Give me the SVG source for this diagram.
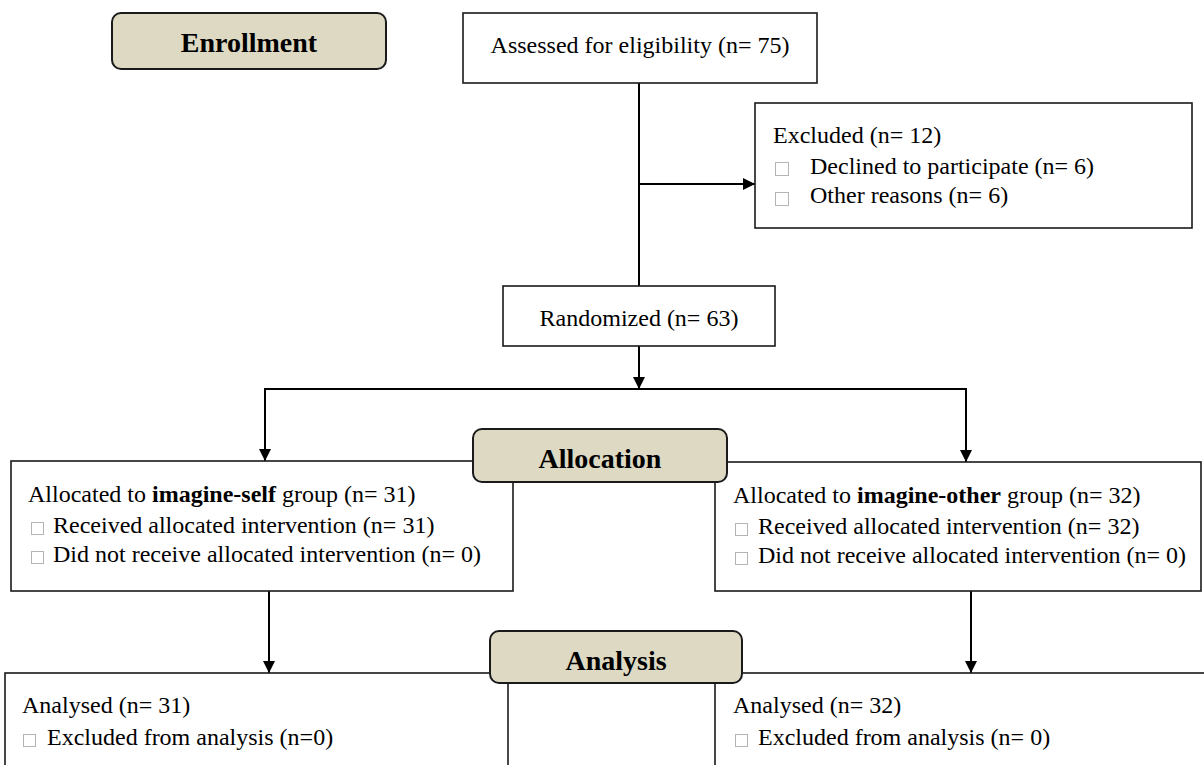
<svg xmlns="http://www.w3.org/2000/svg" width="1204" height="765" viewBox="0 0 1204 765" font-family="Liberation Serif, Times New Roman, Tinos, Nimbus Roman, FreeSerif, DejaVu Serif, Noto Serif, serif">
<style>
  .box { fill: #ffffff; stroke: #1a1a1a; stroke-width: 1.6; }
  .stage { fill: #DDD9C3; stroke: #1a1a1a; stroke-width: 2; }
  .t { font-size: 24px; fill: #000; }
  .h { font-size: 28px; font-weight: bold; fill: #000; text-anchor: middle; }
  .b { font-weight: bold; }
  .bul { fill: #ffffff; stroke: #b4b4b4; stroke-width: 1; }
  .conn { fill: none; stroke: #000; stroke-width: 2; }
</style>
<defs>
  <marker id="arr" viewBox="0 0 10 10" refX="10" refY="5" markerWidth="13" markerHeight="12" markerUnits="userSpaceOnUse" orient="auto">
    <path d="M0,0 L10,5 L0,10 z" fill="#000"/>
  </marker>
</defs>
<rect width="1204" height="765" fill="#ffffff"/>

<g id="connectors">
  <line class="conn" x1="639" y1="83" x2="639" y2="286"/>
  <line class="conn" x1="639" y1="184" x2="755" y2="184" marker-end="url(#arr)"/>
  <line class="conn" x1="639" y1="346" x2="639" y2="389" marker-end="url(#arr)"/>
  <line class="conn" x1="264" y1="389" x2="967" y2="389"/>
  <line class="conn" x1="265" y1="388" x2="265" y2="461" marker-end="url(#arr)"/>
  <line class="conn" x1="966" y1="388" x2="966" y2="462" marker-end="url(#arr)"/>
  <line class="conn" x1="269" y1="591" x2="269" y2="673" marker-end="url(#arr)"/>
  <line class="conn" x1="971" y1="591" x2="971" y2="673" marker-end="url(#arr)"/>
</g>

<g id="enrollment">
  <rect class="stage" x="112" y="13" width="274" height="56" rx="9"/>
  <text class="h" x="249" y="52" font-family="Liberation Serif, serif">Enrollment</text>
</g>

<g id="assessed">
  <rect class="box" x="463" y="13" width="354" height="70"/>
  <text class="t" x="640" y="53" text-anchor="middle" font-family="Liberation Serif, serif">Assessed for eligibility (n= 75)</text>
</g>

<g id="excluded">
  <rect class="box" x="755" y="103" width="437" height="125"/>
  <text class="t" x="773" y="143" font-family="Liberation Serif, serif">Excluded (n= 12)</text>
  <rect class="bul" x="775.5" y="162.5" width="13" height="13"/>
  <text class="t" x="810" y="174" font-family="Liberation Serif, serif">Declined to participate (n= 6)</text>
  <rect class="bul" x="775.5" y="192.5" width="13" height="13"/>
  <text class="t" x="810" y="203" font-family="Liberation Serif, serif">Other reasons (n= 6)</text>
</g>

<g id="randomized">
  <rect class="box" x="503" y="286" width="272" height="60"/>
  <text class="t" x="639" y="326" text-anchor="middle" font-family="Liberation Serif, serif">Randomized (n= 63)</text>
</g>

<g id="alloc-self">
  <rect class="box" x="11" y="461" width="502" height="130"/>
  <text class="t" x="28" y="502" font-family="Liberation Serif, serif">Allocated to <tspan class="b">imagine-self</tspan> group (n= 31)</text>
  <rect class="bul" x="31.5" y="522.5" width="12" height="12"/>
  <text class="t" x="53" y="533" font-family="Liberation Serif, serif">Received allocated intervention (n= 31)</text>
  <rect class="bul" x="31.5" y="551.5" width="12" height="12"/>
  <text class="t" x="53" y="562" font-family="Liberation Serif, serif">Did not receive allocated intervention (n= 0)</text>
</g>

<g id="alloc-other">
  <rect class="box" x="715" y="462" width="486" height="129"/>
  <text class="t" x="733" y="503" font-family="Liberation Serif, serif">Allocated to <tspan class="b">imagine-other</tspan> group (n= 32)</text>
  <rect class="bul" x="735.5" y="523.5" width="12" height="12"/>
  <text class="t" x="758" y="534" font-family="Liberation Serif, serif">Received allocated intervention (n= 32)</text>
  <rect class="bul" x="735.5" y="552.5" width="12" height="12"/>
  <text class="t" x="758" y="563" font-family="Liberation Serif, serif">Did not receive allocated intervention (n= 0)</text>
</g>

<g id="allocation">
  <rect class="stage" x="473" y="429" width="254" height="53" rx="9"/>
  <text class="h" x="600" y="468" font-family="Liberation Serif, serif">Allocation</text>
</g>

<g id="analysed-self">
  <rect class="box" x="5" y="673" width="503" height="110"/>
  <text class="t" x="22" y="713" font-family="Liberation Serif, serif">Analysed (n= 31)</text>
  <rect class="bul" x="23.5" y="734.5" width="12" height="12"/>
  <text class="t" x="47" y="745" font-family="Liberation Serif, serif">Excluded from analysis (n=0)</text>
</g>

<g id="analysed-other">
  <rect class="box" x="715" y="673" width="500" height="110"/>
  <text class="t" x="733" y="713" font-family="Liberation Serif, serif">Analysed (n= 32)</text>
  <rect class="bul" x="735.5" y="734.5" width="12" height="12"/>
  <text class="t" x="758" y="745" font-family="Liberation Serif, serif">Excluded from analysis (n= 0)</text>
</g>

<g id="analysis">
  <rect class="stage" x="490" y="631" width="252" height="52" rx="9"/>
  <text class="h" x="616" y="670" font-family="Liberation Serif, serif">Analysis</text>
</g>
</svg>
